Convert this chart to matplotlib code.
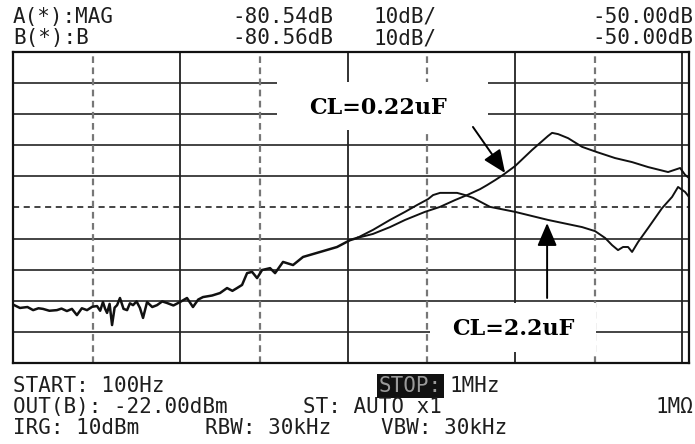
import matplotlib
matplotlib.use('Agg')
import matplotlib.pyplot as plt
from matplotlib.patches import Rectangle

# trace (Hz, dB); both CL values share the trace up to ~11 kHz
common_f = [100, 110, 122, 132, 142, 151, 165, 183, 195, 210, 225, 241, 258, 277, 298, 318,
            332, 345, 355, 365, 378, 391, 405, 419, 436, 458, 481, 500, 522, 548, 574, 599,
            633, 680, 726, 780, 833, 910, 996, 1097, 1191, 1280, 1367, 1550, 1729, 1904, 2050,
            2185, 2341, 2508, 2687, 2879, 3084, 3442, 3688, 4115, 4723, 5420, 6853, 8655,
            10350, 11400]
common_db = [-81.2, -82.3, -82.0, -83.0, -82.4, -82.6, -83.2, -83.0, -82.5, -83.3, -82.6, -84.6,
             -82.4, -83.0, -81.9, -81.7, -83.2, -80.4, -82.5, -83.9, -81.0, -87.8, -82.2, -81.4,
             -79.1, -82.6, -83.0, -80.8, -81.4, -80.2, -82.3, -85.5, -80.4, -82.0, -81.4, -80.2,
             -80.7, -81.5, -80.4, -79.1, -82.0, -79.6, -78.8, -78.3, -77.5, -75.9, -76.8, -75.9,
             -74.9, -71.1, -70.7, -72.7, -70.1, -69.5, -71.1, -67.5, -68.5, -65.9, -64.3, -62.7,
             -60.5, -59.8]

# CL = 2.2uF branch
cl2u2_f = [11400, 14190, 17940, 22070, 26050, 30300, 32470, 35730, 45170, 50450, 56290, 71110,
           100300, 158000, 252500, 302000, 346700, 381400, 414100, 443700, 475500, 502400,
           545800, 626600, 759300, 871500, 946300, 1042000, 1100000]
cl2u2_db = [-59.8, -57.2, -54.0, -51.4, -49.2, -47.3, -46.0, -45.3, -45.3, -46.0, -46.9, -49.8,
            -51.4, -54.0, -56.3, -57.6, -59.8, -62.1, -63.7, -62.7, -62.7, -64.3, -61.1, -56.6,
            -50.2, -46.6, -43.4, -45.0, -46.6]

# CL = 0.22uF branch
cl0u22_f = [11400, 14190, 17940, 22070, 29040, 35730, 43950, 51870, 61970, 68240, 76230, 85150,
            100300, 126800, 158000, 167000, 181500, 208200, 252500, 310400, 397300, 502400,
            626600, 824700, 973500, 1042000, 1100000]
cl0u22_db = [-59.8, -58.5, -56.3, -54.0, -51.4, -49.8, -47.6, -46.0, -44.1, -42.8, -41.2, -39.5,
             -36.7, -31.5, -27.0, -26.0, -26.4, -27.7, -30.5, -32.2, -34.1, -35.4, -37.0, -38.6,
             -37.3, -39.5, -40.5]

solid_x = [1e3, 1e4, 1e5, 1e6]
dashed_x = [300, 3e3, 3e4, 3e5]
grid_y = [-10, -20, -30, -40, -60, -70, -80, -90]

W, H = 695, 444
fig = plt.figure(figsize=(W / 100, H / 100), dpi=100)
fig.patch.set_facecolor('white')
ax = fig.add_axes([13 / W, 1 - 363 / H, (689 - 13) / W, (363 - 52) / H])
ax.set_xscale('log')
ax.set_xlim(100, 1.1e6)
ax.set_ylim(-100, 0)
ax.set_xticks([])
ax.set_yticks([])
ax.minorticks_off()
for s in ax.spines.values():
    s.set_linewidth(1.6)
    s.set_color('#111111')

for y in grid_y:
    ax.axhline(y, color='#111111', lw=1.1, zorder=1)
ax.axhline(-50, color='#111111', lw=1.1, ls=(0, (4, 3)), zorder=1)
for x in solid_x:
    ax.axvline(x, color='#222222', lw=1.3, zorder=1)
for x in dashed_x:
    ax.axvline(x, color='#777777', lw=1.6, ls=(0, (3, 2)), zorder=1)

ax.plot(common_f, common_db, color='#111111', lw=1.8, zorder=3)
ax.plot(cl2u2_f, cl2u2_db, color='#111111', lw=1.4, zorder=3)
ax.plot(cl0u22_f, cl0u22_db, color='#111111', lw=1.4, zorder=3)

# labels in white boxes with arrows
ax.add_patch(Rectangle((3786, -25.1), 69180 - 3786, 15.5, facecolor='white',
                       edgecolor='none', zorder=4))
ax.text(15200, -18.0, 'CL=0.22uF', family='DejaVu Serif', weight='bold', fontsize=16,
        ha='center', va='center', zorder=5)
ax.add_patch(Rectangle((31120, -96.5), 306000 - 31120, 15.8, facecolor='white',
                       edgecolor='none', zorder=4))
ax.text(97800, -89.0, 'CL=2.2uF', family='DejaVu Serif', weight='bold', fontsize=16,
        ha='center', va='center', zorder=5)
arrow = dict(arrowstyle='-|>,head_length=1.4,head_width=0.6', color='black', lw=1.4,
             shrinkA=0, shrinkB=0)
ax.annotate('', xy=(87500, -38.9), xytext=(56200, -24.1), arrowprops=arrow, zorder=6)
ax.annotate('', xy=(156000, -55.0), xytext=(156000, -79.1), arrowprops=arrow, zorder=6)

# screen text
mono = dict(family='DejaVu Sans Mono', fontsize=15, color='#1e1e1e', va='center')


def px(x, y):
    return x / W, 1 - y / H


fig.text(*px(13, 17), 'A(*):MAG', **mono)
fig.text(*px(232, 17), '-80.54dB', **mono)
fig.text(*px(374, 17), '10dB/', **mono)
fig.text(*px(693, 17), '-50.00dB', ha='right', **mono)
fig.text(*px(13, 38), 'B(*):B', **mono)
fig.text(*px(232, 38), '-80.56dB', **mono)
fig.text(*px(374, 38), '10dB/', **mono)
fig.text(*px(693, 38), '-50.00dB', ha='right', **mono)

fig.text(*px(13, 386), 'START: 100Hz', **mono)
fig.text(*px(379, 386), 'STOP:', bbox=dict(facecolor='#111111', edgecolor='none', pad=1.5),
         **{**mono, 'color': '#9a9a9a'})
fig.text(*px(450, 386), '1MHz', **mono)
fig.text(*px(13, 407), 'OUT(B): -22.00dBm', **mono)
fig.text(*px(303, 407), 'ST: AUTO x1', **mono)
fig.text(*px(693, 407), '1MΩ', ha='right', **mono)
fig.text(*px(13, 428), 'IRG: 10dBm', **mono)
fig.text(*px(205, 428), 'RBW: 30kHz', **mono)
fig.text(*px(381, 428), 'VBW: 30kHz', **mono)

fig.savefig('out.png', dpi=100)
